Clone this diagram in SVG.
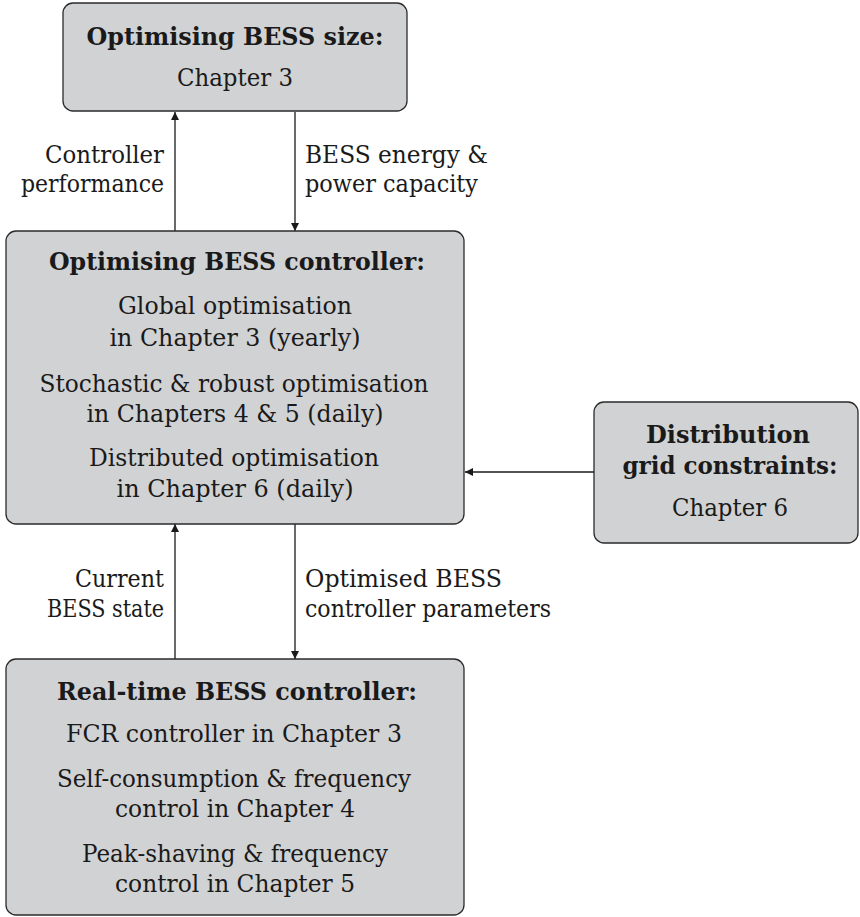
<svg xmlns="http://www.w3.org/2000/svg" width="860" height="917" viewBox="0 0 860 917" font-family="'DejaVu Serif', serif" font-size="23.5">
<style>
.box{fill:#d1d2d4;stroke:#2b2b2b;stroke-width:1.3}
text{fill:#1a1a1a}
.b{font-weight:bold}
.c{text-anchor:middle}
.r{text-anchor:end}
.ln{stroke:#1a1a1a;stroke-width:1.3;fill:none;marker-end:url(#ah)}
</style>
<defs>
<marker id="ah" viewBox="0 0 10 10" refX="10" refY="5" markerWidth="8" markerHeight="8" markerUnits="userSpaceOnUse" orient="auto">
<path d="M0,0 L10,5 L0,10 z" fill="#1a1a1a"/>
</marker>
</defs>
<g id="connectors">
<path class="ln" d="M175,231 V112"/>
<path class="ln" d="M295,112 V231"/>
<path class="ln" d="M175,659 V524"/>
<path class="ln" d="M295,524 V659"/>
<path class="ln" d="M594,472 H465"/>
<text class="r" x="164" y="163" textLength="119" lengthAdjust="spacingAndGlyphs">Controller</text>
<text class="r" x="164" y="192" textLength="143" lengthAdjust="spacingAndGlyphs">performance</text>
<text x="305" y="163" textLength="183" lengthAdjust="spacingAndGlyphs">BESS energy &amp;</text>
<text x="305" y="192" textLength="173" lengthAdjust="spacingAndGlyphs">power capacity</text>
<text class="r" x="164" y="587" textLength="89" lengthAdjust="spacingAndGlyphs">Current</text>
<text class="r" x="164" y="617" textLength="117" lengthAdjust="spacingAndGlyphs">BESS state</text>
<text x="305" y="587" textLength="197" lengthAdjust="spacingAndGlyphs">Optimised BESS</text>
<text x="305" y="617" textLength="246" lengthAdjust="spacingAndGlyphs">controller parameters</text>
</g>
<g id="size">
<rect class="box" x="63" y="3" width="344" height="108" rx="10"/>
<text class="c b" x="235" y="45" textLength="297" lengthAdjust="spacingAndGlyphs">Optimising BESS size:</text>
<text class="c" x="235" y="86" textLength="116" lengthAdjust="spacingAndGlyphs">Chapter 3</text>
</g>
<g id="optctrl">
<rect class="box" x="6" y="231" width="458" height="293" rx="10"/>
<text class="c b" x="237" y="270" textLength="376" lengthAdjust="spacingAndGlyphs">Optimising BESS controller:</text>
<text class="c" x="235" y="314" textLength="234" lengthAdjust="spacingAndGlyphs">Global optimisation</text>
<text class="c" x="235" y="346" textLength="251" lengthAdjust="spacingAndGlyphs">in Chapter 3 (yearly)</text>
<text class="c" x="234" y="392" textLength="389" lengthAdjust="spacingAndGlyphs">Stochastic &amp; robust optimisation</text>
<text class="c" x="235" y="422" textLength="297" lengthAdjust="spacingAndGlyphs">in Chapters 4 &amp; 5 (daily)</text>
<text class="c" x="234" y="466" textLength="290" lengthAdjust="spacingAndGlyphs">Distributed optimisation</text>
<text class="c" x="235" y="497" textLength="237" lengthAdjust="spacingAndGlyphs">in Chapter 6 (daily)</text>
</g>
<g id="grid">
<rect class="box" x="594" y="402" width="264" height="141" rx="10"/>
<text class="c b" x="728" y="443" textLength="164" lengthAdjust="spacingAndGlyphs">Distribution</text>
<text class="c b" x="730" y="474" textLength="215" lengthAdjust="spacingAndGlyphs">grid constraints:</text>
<text class="c" x="730" y="516" textLength="116" lengthAdjust="spacingAndGlyphs">Chapter 6</text>
</g>
<g id="realtime">
<rect class="box" x="6" y="659" width="458" height="256" rx="10"/>
<text class="c b" x="237" y="700" textLength="360" lengthAdjust="spacingAndGlyphs">Real-time BESS controller:</text>
<text class="c" x="234" y="742" textLength="336" lengthAdjust="spacingAndGlyphs">FCR controller in Chapter 3</text>
<text class="c" x="234" y="787" textLength="354" lengthAdjust="spacingAndGlyphs">Self-consumption &amp; frequency</text>
<text class="c" x="235" y="817" textLength="240" lengthAdjust="spacingAndGlyphs">control in Chapter 4</text>
<text class="c" x="235" y="862" textLength="306" lengthAdjust="spacingAndGlyphs">Peak-shaving &amp; frequency</text>
<text class="c" x="235" y="892" textLength="240" lengthAdjust="spacingAndGlyphs">control in Chapter 5</text>
</g>
</svg>
